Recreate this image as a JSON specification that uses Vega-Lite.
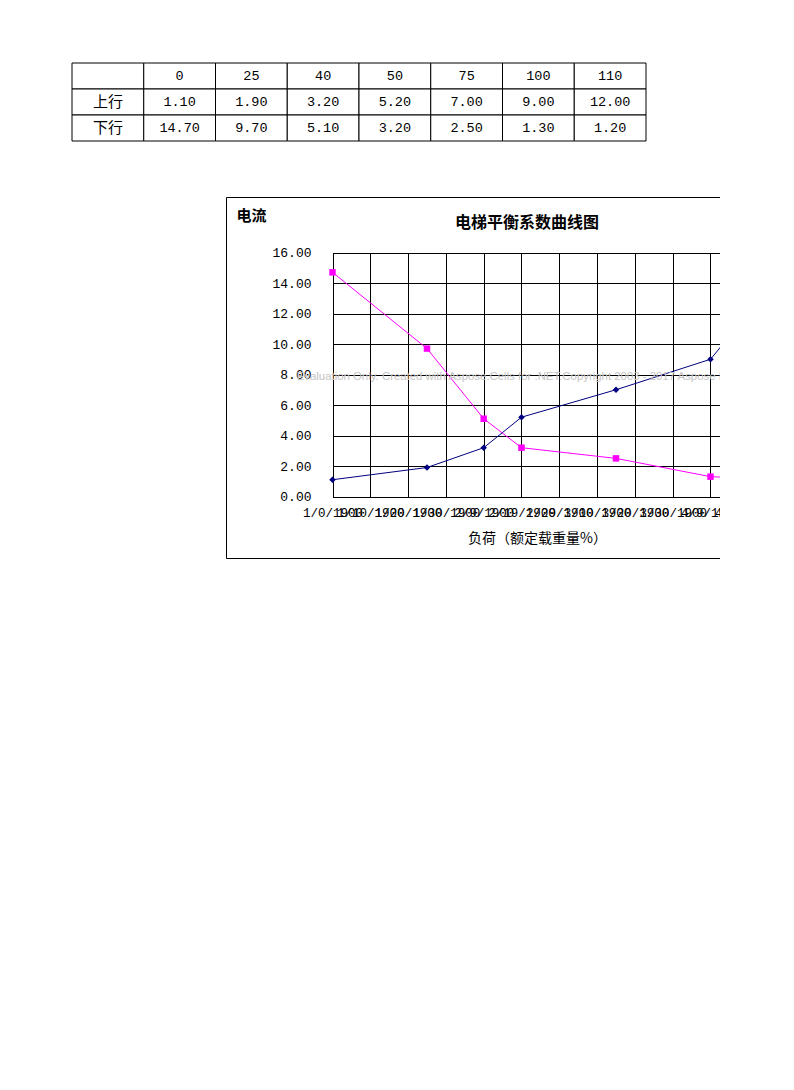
{
  "$schema": "https://vega.github.io/schema/vega-lite/v6.json",
  "width": 602,
  "height": 361,
  "autosize": {"type": "none"},
  "padding": {"left": 226, "top": 197, "right": -108, "bottom": 10},
  "background": "white",
  "config": {
    "view": {"stroke": "black", "strokeWidth": 1},
    "font": "Noto Sans CJK SC",
    "axis": {"labelColor": "black", "titleColor": "black"}
  },
  "title": {
    "text": "电梯平衡系数曲线图",
    "subtitle": "Evaluation Only. Created with Aspose.Cells for .NET.Copyright 2003 - 2017 Aspose Pty Ltd.",
    "anchor": "middle",
    "frame": "group",
    "orient": "top",
    "offset": -319.5,
    "font": "Noto Sans CJK SC",
    "fontSize": 16,
    "fontWeight": "bold",
    "color": "black",
    "subtitleFont": "Liberation Sans",
    "subtitleFontSize": 11.4,
    "subtitleColor": "#c4c4c4",
    "subtitlePadding": 140
  },
  "datasets": {
    "cells": [
      {"row": 0, "col": 0, "t": ""},
      {"row": 0, "col": 1, "t": "0"},
      {"row": 0, "col": 2, "t": "25"},
      {"row": 0, "col": 3, "t": "40"},
      {"row": 0, "col": 4, "t": "50"},
      {"row": 0, "col": 5, "t": "75"},
      {"row": 0, "col": 6, "t": "100"},
      {"row": 0, "col": 7, "t": "110"},
      {"row": 1, "col": 0, "t": "上行"},
      {"row": 1, "col": 1, "t": "1.10"},
      {"row": 1, "col": 2, "t": "1.90"},
      {"row": 1, "col": 3, "t": "3.20"},
      {"row": 1, "col": 4, "t": "5.20"},
      {"row": 1, "col": 5, "t": "7.00"},
      {"row": 1, "col": 6, "t": "9.00"},
      {"row": 1, "col": 7, "t": "12.00"},
      {"row": 2, "col": 0, "t": "下行"},
      {"row": 2, "col": 1, "t": "14.70"},
      {"row": 2, "col": 2, "t": "9.70"},
      {"row": 2, "col": 3, "t": "5.10"},
      {"row": 2, "col": 4, "t": "3.20"},
      {"row": 2, "col": 5, "t": "2.50"},
      {"row": 2, "col": 6, "t": "1.30"},
      {"row": 2, "col": 7, "t": "1.20"}
    ],
    "currents": [
      {"load": 0, "series": "上行", "current": 1.1},
      {"load": 25, "series": "上行", "current": 1.9},
      {"load": 40, "series": "上行", "current": 3.2},
      {"load": 50, "series": "上行", "current": 5.2},
      {"load": 75, "series": "上行", "current": 7.0},
      {"load": 100, "series": "上行", "current": 9.0},
      {"load": 110, "series": "上行", "current": 12.0},
      {"load": 0, "series": "下行", "current": 14.7},
      {"load": 25, "series": "下行", "current": 9.7},
      {"load": 40, "series": "下行", "current": 5.1},
      {"load": 50, "series": "下行", "current": 3.2},
      {"load": 75, "series": "下行", "current": 2.5},
      {"load": 100, "series": "下行", "current": 1.3},
      {"load": 110, "series": "下行", "current": 1.2}
    ]
  },
  "layer": [
    {
      "data": {"name": "cells"},
      "encoding": {
        "x": {"field": "col", "type": "ordinal", "axis": null,
              "scale": {"range": [-154, 420], "paddingInner": 0, "paddingOuter": 0}},
        "y": {"field": "row", "type": "ordinal", "axis": null,
              "scale": {"range": [-134, -56], "paddingInner": 0, "paddingOuter": 0}}
      },
      "layer": [
        {"mark": {"type": "rect", "fill": "white", "stroke": "black", "strokeWidth": 1}},
        {
          "mark": {"type": "text", "font": "Liberation Mono, Noto Sans CJK SC", "color": "black", "baseline": "middle", "align": "center"},
          "encoding": {
            "text": {"field": "t"},
            "size": {"condition": {"test": "datum.col === 0", "value": 15}, "value": 13.5}
          }
        }
      ]
    },
    {
      "data": {"name": "currents"},
      "layer": [
        {
          "mark": {"type": "line", "strokeWidth": 1},
          "encoding": {
            "x": {"field": "load", "type": "quantitative",
                  "scale": {"domain": [0, 110], "range": [106.5, 522.3], "nice": false, "zero": false},
                  "axis": {"orient": "top", "offset": 0, "values": [0, 10, 20, 30, 40, 50, 60, 70, 80, 90, 100, 110],
                           "grid": true, "gridColor": "black", "gridOpacity": 1, "gridWidth": 1,
                           "labels": false, "ticks": false, "domain": false, "title": null}},
            "y": {"field": "current", "type": "quantitative",
                  "scale": {"domain": [0, 16], "range": [299.5, 55.5], "nice": false, "zero": false},
                  "axis": {"orient": "left", "offset": -106.5, "values": [0, 2, 4, 6, 8, 10, 12, 14, 16], "format": ".2f",
                           "grid": true, "gridColor": "black", "gridOpacity": 1, "gridWidth": 1,
                           "ticks": false, "tickSize": 0, "domain": false, "labelPadding": 21.5,
                           "labelFont": "Liberation Mono", "labelFontSize": 13,
                           "title": "电流", "titleAngle": 0, "titleX": -81.5, "titleY": 18,
                           "titleAlign": "center", "titleBaseline": "middle",
                           "titleFont": "Noto Sans CJK SC", "titleFontSize": 15, "titleFontWeight": "bold"}},
            "color": {"field": "series", "type": "nominal", "legend": null,
                      "scale": {"domain": ["上行", "下行"], "range": ["#000080", "#FF00FF"]}}
          }
        },
        {
          "mark": {"type": "point", "filled": true, "opacity": 1, "size": 42},
          "encoding": {
            "x": {"field": "load", "type": "quantitative",
                  "scale": {"domain": [0, 110], "range": [106.5, 522.3], "nice": false, "zero": false},
                  "axis": {"orient": "bottom", "offset": -61.5, "values": [0, 10, 20, 30, 40, 50, 60, 70, 80, 90, 100, 110],
                           "labelExpr": "['1/0/1900','1/10/1900','1/20/1900','1/30/1900','2/9/1900','2/19/1900','2/29/1900','3/10/1900','3/20/1900','3/30/1900','4/9/1900','4/19/1900'][round(datum.value / 10)]",
                           "labelOverlap": false, "labelFlush": false, "labelBound": false,
                           "grid": false, "ticks": false, "tickSize": 0, "domain": false, "labelPadding": 10,
                           "labelFont": "Liberation Mono", "labelFontSize": 12.5,
                           "title": "负荷（额定载重量%）", "titleX": 311, "titleY": 41.5,
                           "titleAlign": "center", "titleBaseline": "middle",
                           "titleFont": "Noto Sans CJK SC", "titleFontSize": 14, "titleFontWeight": "normal"}},
            "y": {"field": "current", "type": "quantitative",
                  "scale": {"domain": [0, 16], "range": [299.5, 55.5], "nice": false, "zero": false}},
            "color": {"field": "series", "type": "nominal", "legend": null,
                      "scale": {"domain": ["上行", "下行"], "range": ["#000080", "#FF00FF"]}},
            "shape": {"field": "series", "type": "nominal", "legend": null,
                      "scale": {"domain": ["上行", "下行"], "range": ["diamond", "square"]}}
          }
        }
      ],
      "resolve": {"axis": {"x": "independent"}}
    }
  ],
  "resolve": {"scale": {"x": "independent", "y": "independent"}}
}
